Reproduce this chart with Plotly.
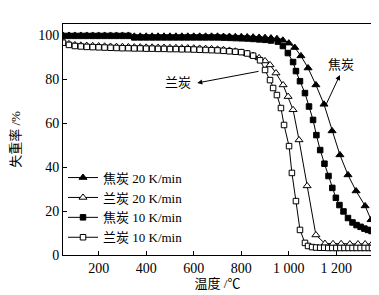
import plotly.graph_objects as go

# 焦炭 20 K/min (filled triangles)
jt20_T = [50, 75, 100, 125, 150, 175, 200, 225, 250, 275, 300, 325,
          350, 375, 400, 425, 450, 475, 500, 525, 550, 575, 600, 625, 650, 675, 700,
          725, 750, 775, 800, 825, 850, 875, 900, 925, 950, 975, 1000, 1025,
          1051, 1081, 1114, 1148, 1182, 1215, 1249, 1283, 1321, 1346]
jt20_v = [99.8, 99.8, 99.8, 99.8, 99.8, 99.8, 99.8, 99.8, 99.8, 99.8, 99.8, 99.8,
          99.4, 99.4, 99.4, 99.4, 99.4, 99.4, 99.4, 99.4, 99.4, 99.4, 99.4, 99.4, 99.4, 99.4, 99.4,
          99.3, 99.3, 99.2, 99.2, 99.1, 99.0, 98.9, 98.8, 98.6, 98.3, 97.6, 96.3, 94.3,
          90.5, 85.0, 77.3, 68.5, 56.4, 45.5, 36.4, 29.1, 22.3, 16.0]

# 兰炭 20 K/min (open triangles)
lt20_T = [50, 75, 100, 125, 150, 175, 200, 225, 250, 275, 300, 325, 350, 375, 400,
          425, 450, 475, 500, 525, 550, 575, 600, 625, 650, 675, 700, 725, 750, 775,
          800, 825, 850, 875, 900, 921, 946, 976, 997, 1018, 1043, 1077, 1114,
          1152, 1186, 1220, 1257, 1291, 1321, 1350]
lt20_v = [97.0, 96.0, 95.5, 95.3, 95.2, 95.1, 95.0, 94.9, 94.8, 94.7, 94.7, 94.6, 94.5, 94.5, 94.4,
          94.4, 94.3, 94.3, 94.2, 94.2, 94.1, 94.1, 94.0, 93.9, 93.8, 93.7, 93.5, 93.3, 93.0, 92.6,
          92.1, 91.5, 90.7, 89.6, 88.2, 86.4, 82.7, 77.3, 72.0, 66.0, 52.3, 31.4, 9.1,
          5.2, 5.1, 5.1, 5.0, 5.0, 5.0, 5.0]

# 焦炭 10 K/min (filled squares)
jt10_T = [50, 75, 100, 125, 150, 175, 200, 225, 250, 275, 300, 325,
          350, 375, 400, 425, 450, 475, 500, 525, 550, 575, 600, 625, 650, 675, 700,
          725, 750, 775, 800, 825, 850, 875, 900, 925, 954, 975, 996, 1018, 1030, 1047,
          1068, 1085, 1102, 1116, 1132, 1150, 1167, 1183, 1198, 1213, 1230, 1249,
          1268, 1285, 1302, 1318, 1333, 1348]
jt10_v = [99.6, 99.6, 99.6, 99.6, 99.6, 99.6, 99.6, 99.6, 99.6, 99.6, 99.6, 99.6,
          98.9, 98.9, 98.9, 98.9, 98.9, 98.9, 98.9, 98.9, 98.9, 98.9, 98.9, 98.9, 98.9, 98.9, 98.9,
          98.8, 98.7, 98.6, 98.5, 98.4, 98.2, 98.0, 97.8, 97.5, 97.0, 95.0, 91.8, 87.7, 83.6, 79.0,
          73.6, 67.5, 61.4, 54.5, 47.7, 41.5, 35.9, 30.5, 26.0, 22.7, 19.8, 16.8,
          14.8, 13.6, 12.8, 12.0, 11.4, 10.9]

# 兰炭 10 K/min (open squares)
lt10_T = [50, 75, 100, 125, 150, 175, 200, 225, 250, 275, 300, 325, 350, 375, 400,
          425, 450, 475, 500, 525, 550, 575, 600, 625, 650, 675, 700, 725, 750, 775,
          800, 825, 850, 879, 900, 921, 934, 950, 967, 980, 1001, 1013, 1030, 1047,
          1068, 1081, 1098, 1115, 1132, 1149, 1166, 1183, 1200, 1217, 1234, 1251,
          1268, 1285, 1302, 1319, 1336, 1350]
lt10_v = [96.5, 95.5, 95.0, 94.8, 94.6, 94.5, 94.4, 94.3, 94.2, 94.1, 94.0, 94.0, 93.9, 93.9, 93.8,
          93.8, 93.7, 93.7, 93.6, 93.6, 93.5, 93.5, 93.4, 93.3, 93.2, 93.1, 93.0, 92.8, 92.6, 92.4,
          92.2, 91.6, 90.6, 88.5, 84.1, 79.5, 75.9, 72.7, 66.8, 59.1, 49.5, 37.3, 24.5, 11.4,
          5.5, 4.1, 3.6, 3.4, 3.3, 3.3, 3.2, 3.2, 3.2, 3.2, 3.2, 3.2,
          3.2, 3.2, 3.2, 3.2, 3.2, 3.2]

x_tickvals = [200, 400, 600, 800, 1000, 1200]
x_ticktext = ["200", "400", "600", "800", "1 000", "1 200"]
y_tickvals = [0, 20, 40, 60, 80, 100]

FONT = "Liberation Serif, Times New Roman, Noto Sans CJK SC, serif"

fig = go.Figure()
series = [
    ("焦炭 20 K/min", jt20_T, jt20_v, "triangle-up", "black", 7),
    ("兰炭 20 K/min", lt20_T, lt20_v, "triangle-up", "white", 7),
    ("焦炭 10 K/min", jt10_T, jt10_v, "square", "black", 5.5),
    ("兰炭 10 K/min", lt10_T, lt10_v, "square", "white", 5.5),
]
for name, xs, ys, sym, fill, sz in series:
    fig.add_trace(go.Scatter(
        x=xs, y=ys, name=name, mode="lines+markers",
        line=dict(color="black", width=1),
        marker=dict(symbol=sym, size=sz, color=fill,
                    line=dict(color="black", width=1)),
    ))

fig.update_layout(
    width=379, height=295,
    margin=dict(l=55, r=15, t=16, b=48),
    paper_bgcolor="white", plot_bgcolor="white",
    font=dict(family=FONT, size=13, color="black"),
    showlegend=True,
    legend=dict(x=0.0, y=0.40, xanchor="left", yanchor="top",
                bgcolor="rgba(0,0,0,0)", font=dict(size=13, family=FONT),
                tracegroupgap=0, itemwidth=30),
    xaxis=dict(range=[50, 1350], tickvals=x_tickvals, ticktext=x_ticktext,
               ticks="inside", ticklen=4, tickcolor="black",
               showline=True, linecolor="black", linewidth=1, mirror=True,
               showgrid=False, zeroline=False, automargin=False,
               tickfont=dict(size=14, family=FONT),
               title=dict(text="温度 /℃", font=dict(size=13, family=FONT), standoff=4)),
    yaxis=dict(range=[0, 105], tickvals=y_tickvals,
               ticks="inside", ticklen=4, tickcolor="black",
               showline=True, linecolor="black", linewidth=1, mirror=True,
               showgrid=False, zeroline=False, automargin=False,
               tickfont=dict(size=14, family=FONT),
               title=dict(text="失重率 /%", font=dict(size=13, family=FONT), standoff=14)),
)

# 兰炭 label and arrow
fig.add_annotation(x=535, y=78.5, text="兰炭", showarrow=False,
                   font=dict(size=13, family=FONT))
fig.add_annotation(x=615, y=78.2, ax=879, ay=83.6, axref="x", ayref="y",
                   xref="x", yref="y", text="", showarrow=True,
                   arrowhead=2, arrowsize=1, arrowwidth=1, arrowcolor="black")
# 焦炭 label and arrow
fig.add_annotation(x=1218, y=86.5, text="焦炭", showarrow=False,
                   font=dict(size=13, family=FONT))
fig.add_annotation(x=1215, y=81.8, ax=1152, ay=67.3, axref="x", ayref="y",
                   xref="x", yref="y", text="", showarrow=True,
                   arrowhead=2, arrowsize=1, arrowwidth=1, arrowcolor="black")

fig.write_html("out.html")
